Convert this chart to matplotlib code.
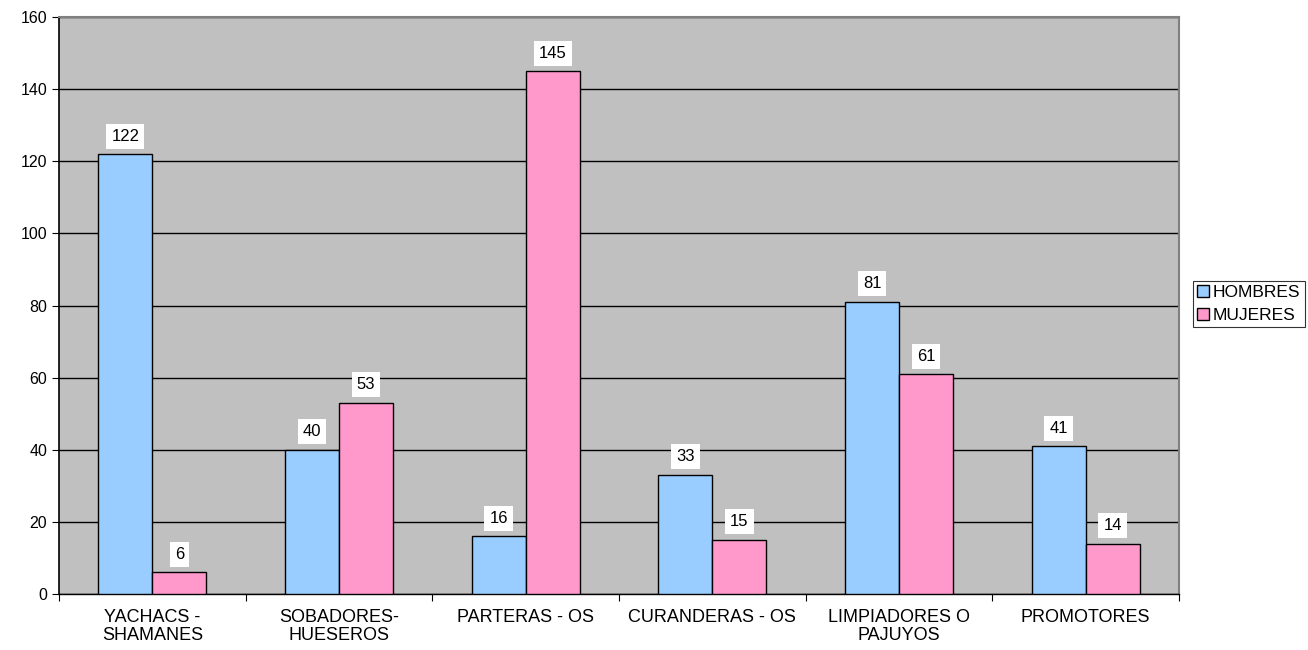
import numpy as np
import matplotlib.pyplot as plt

plt.rcParams['font.family'] = ['Liberation Sans', 'DejaVu Sans']

categorias = ['YACHACS -\nSHAMANES', 'SOBADORES-\nHUESEROS', 'PARTERAS - OS',
              'CURANDERAS - OS', 'LIMPIADORES O\nPAJUYOS', 'PROMOTORES']
hombres = [122, 40, 16, 33, 81, 41]
mujeres = [6, 53, 145, 15, 61, 14]

fig = plt.figure(figsize=(13.08, 6.5), dpi=100)
ax = fig.add_axes([59/1308, 56/650, (1179-59)/1308, (594-17)/650])
ax.set_facecolor('#C0C0C0')

x = np.arange(len(categorias))
w = 0.289
b1 = ax.bar(x - w/2, hombres, w, color='#99CCFF', edgecolor='black', linewidth=1, label='HOMBRES', zorder=3)
b2 = ax.bar(x + w/2, mujeres, w, color='#FF99CC', edgecolor='black', linewidth=1, label='MUJERES', zorder=3)

# etiquetas de valor en caja blanca
for bars in (b1, b2):
    for r in bars:
        h = r.get_height()
        ax.annotate(str(int(h)), (r.get_x() + r.get_width()/2, h), xytext=(0, 18),
                    textcoords='offset pixels', ha='center', va='center',
                    fontsize=12, zorder=4,
                    bbox=dict(boxstyle='square,pad=0.3', fc='white', ec='none'))

ax.set_ylim(0, 160)
ax.set_yticks(range(0, 161, 20))
ax.set_xlim(-0.5, len(categorias) - 0.5)
ax.yaxis.grid(True, color='black', linewidth=1, zorder=0)
ax.set_axisbelow(True)

ax.set_xticks(np.arange(-0.5, len(categorias), 1))
ax.set_xticklabels([])
ax.set_xticks(x, minor=True)
ax.set_xticklabels(categorias, minor=True, fontsize=13, linespacing=1.05)
ax.tick_params(axis='x', which='minor', length=0, pad=11)
ax.tick_params(axis='x', which='major', length=5, direction='out')
ax.tick_params(axis='y', length=5, direction='out', labelsize=11.5)

for s in ['top', 'right']:
    ax.spines[s].set_color('#808080')
    ax.spines[s].set_linewidth(1.5)
ax.spines['left'].set_linewidth(1.2)
ax.spines['bottom'].set_linewidth(1)

leg = fig.legend(handles=[b1, b2], loc='upper left', bbox_to_anchor=(1193/1308, 1 - 281/650),
                 fontsize=12.5, frameon=True, fancybox=False, edgecolor='black',
                 handlelength=0.65, handleheight=0.65, handletextpad=0.25,
                 borderpad=0.25, labelspacing=0.45, borderaxespad=0)
leg.get_frame().set_linewidth(0.8)

fig.savefig('out.png', dpi=100)
